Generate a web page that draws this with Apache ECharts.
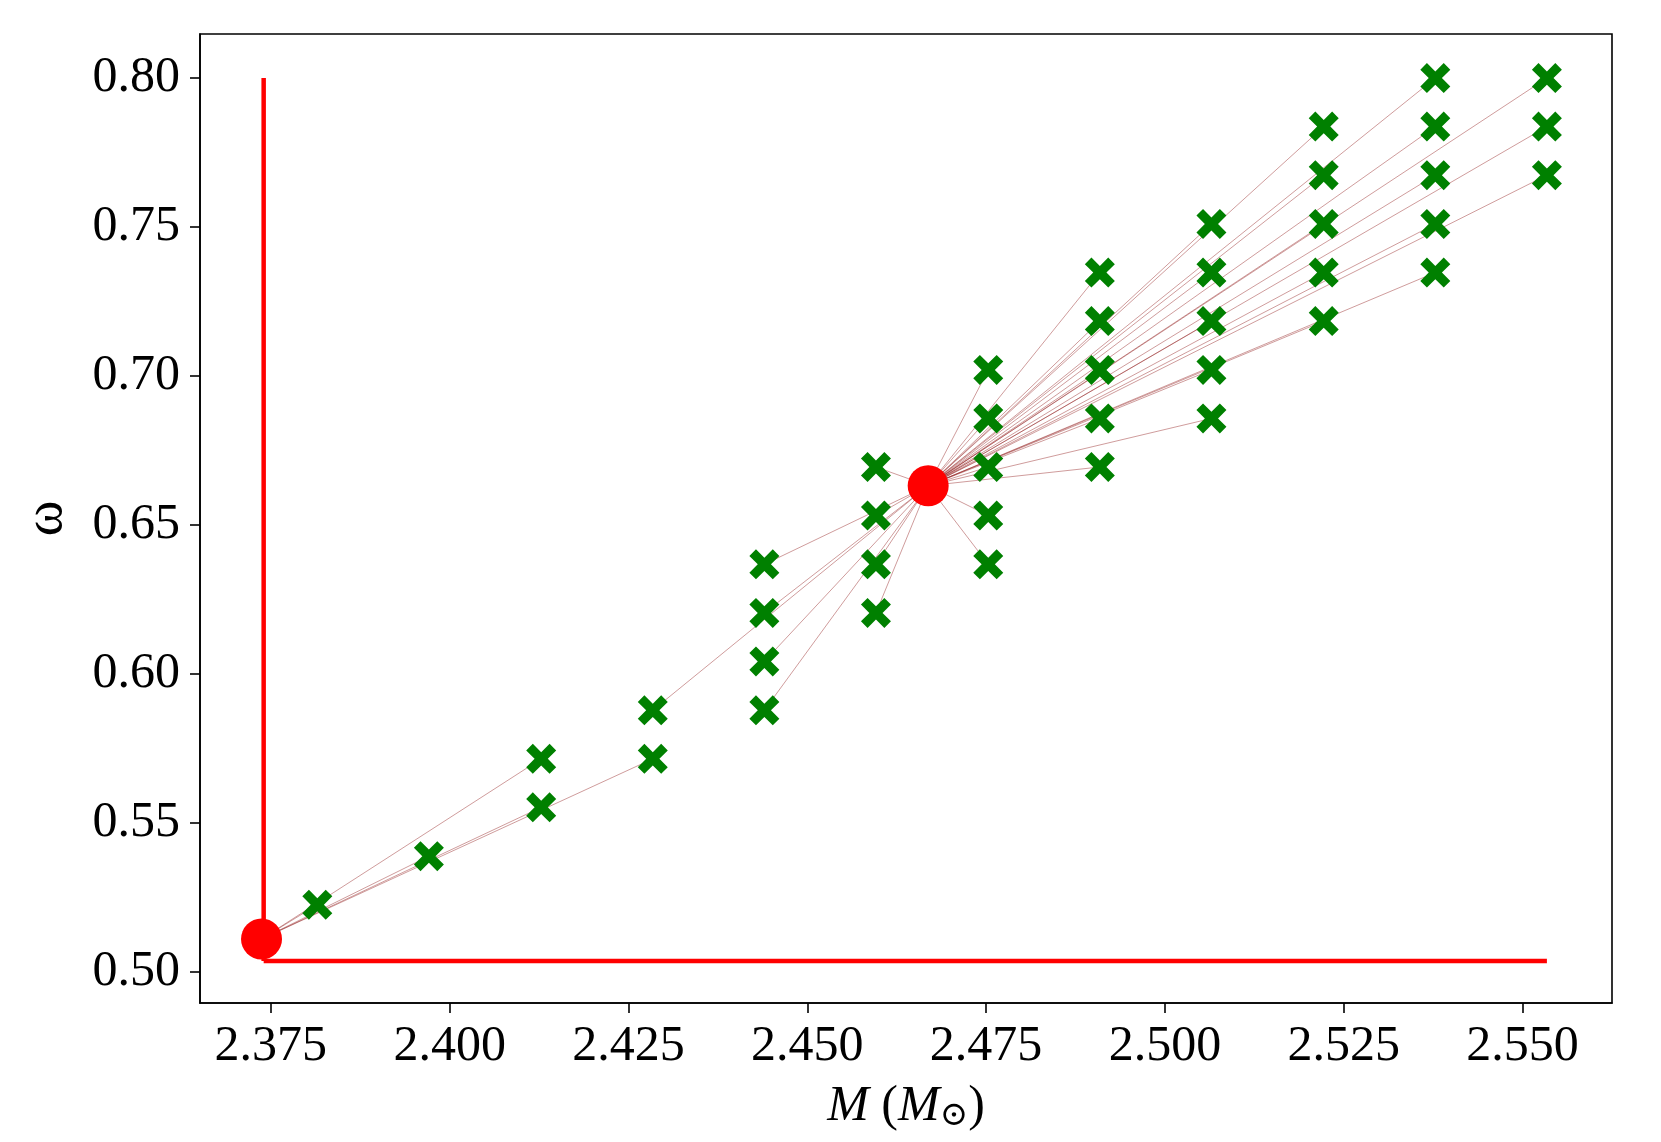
<!DOCTYPE html>
<html>
<head>
<meta charset="utf-8">
<script src="https://cdn.jsdelivr.net/npm/echarts@6/dist/echarts.min.js"></script>
<style>html,body{margin:0;padding:0;background:#fff}#c{width:1661px;height:1142px}</style>
</head>
<body>
<div id="c"></div>
<script>
// ---- data ----
var xTicks = [2.375, 2.400, 2.425, 2.450, 2.475, 2.500, 2.525, 2.550];
var yTicks = [0.50, 0.55, 0.60, 0.65, 0.70, 0.75, 0.80];

var center1 = [2.3737, 0.5109];
var center2 = [2.4669, 0.6631];

var cluster1Points = [
  [2.3815, 0.5224], [2.3971, 0.5387], [2.4128, 0.5551], [2.4128, 0.5714], [2.4284, 0.5714]
];
var cluster2Points = [
  [2.4284, 0.5877],
  [2.4440, 0.5877], [2.4440, 0.6041], [2.4440, 0.6204], [2.4440, 0.6367],
  [2.4596, 0.6204], [2.4596, 0.6367], [2.4596, 0.6531], [2.4596, 0.6694],
  [2.4753, 0.6367], [2.4753, 0.6531], [2.4753, 0.6694], [2.4753, 0.6857], [2.4753, 0.7020],
  [2.4909, 0.6694], [2.4909, 0.6857], [2.4909, 0.7020], [2.4909, 0.7184], [2.4909, 0.7347],
  [2.5065, 0.6857], [2.5065, 0.7020], [2.5065, 0.7184], [2.5065, 0.7347], [2.5065, 0.7510],
  [2.5222, 0.7184], [2.5222, 0.7347], [2.5222, 0.7510], [2.5222, 0.7674], [2.5222, 0.7837],
  [2.5378, 0.7347], [2.5378, 0.7510], [2.5378, 0.7674], [2.5378, 0.7837], [2.5378, 0.8000],
  [2.5534, 0.7674], [2.5534, 0.7837], [2.5534, 0.8000]
];

var boundaryVertical = [[2.3740, 0.5035], [2.3740, 0.8000]];
var boundaryHorizontal = [[2.3740, 0.5035], [2.5534, 0.5035]];

var xRange = [2.3651, 2.5625];
var yRange = [0.4894, 0.8148];

// ---- build ----
var serif = "'Liberation Serif','DejaVu Serif','Times New Roman',serif";
var links = [];
cluster1Points.forEach(function (p) { links.push({ coords: [center1, p] }); });
cluster2Points.forEach(function (p) { links.push({ coords: [center2, p] }); });

var xShape = 'path://M22,0 L50,28 L78,0 L100,22 L72,50 L100,78 L78,100 L50,72 L22,100 L0,78 L28,50 L0,22 Z';

var chart = echarts.init(document.getElementById('c'), null, { renderer: 'canvas' });
chart.setOption({
  animation: false,
  backgroundColor: '#ffffff',
  grid: { left: 200, right: 49, top: 34, bottom: 139, show: true, borderColor: '#000', borderWidth: 1.6, backgroundColor: 'transparent' },
  xAxis: {
    type: 'value', min: xRange[0], max: xRange[1],
    axisLine: { show: true, onZero: false, lineStyle: { color: '#000', width: 1.6 } },
    axisTick: { show: true, length: 10, inside: false, lineStyle: { color: '#000', width: 1.6 }, customValues: xTicks },
    axisLabel: { customValues: xTicks, margin: 19, color: '#000', fontSize: 50, fontFamily: serif,
      formatter: function (v) { return v.toFixed(3); } },
    splitLine: { show: false },
    name: '{i|M} ({i|M}{s|⊙})', nameLocation: 'middle', nameGap: 78,
    nameTextStyle: { color: '#000', fontSize: 50, fontFamily: serif,
      rich: {
        i: { fontSize: 50, fontStyle: 'italic', fontFamily: serif, color: '#000' },
        s: { fontSize: 34, fontFamily: serif, color: '#000', verticalAlign: 'bottom', padding: [18, 0, 0, 0] }
      } }
  },
  yAxis: {
    type: 'value', min: yRange[0], max: yRange[1],
    axisLine: { show: true, onZero: false, lineStyle: { color: '#000', width: 1.6 } },
    axisTick: { show: true, length: 10, inside: false, lineStyle: { color: '#000', width: 1.6 }, customValues: yTicks },
    axisLabel: { customValues: yTicks, margin: 20, color: '#000', fontSize: 50, fontFamily: serif,
      formatter: function (v) { return v.toFixed(2); } },
    splitLine: { show: false },
    name: 'ω', nameLocation: 'middle', nameGap: 126, nameRotate: 90,
    nameTextStyle: { color: '#000', fontSize: 54, fontFamily: serif }
  },
  series: [
    {
      type: 'lines', coordinateSystem: 'cartesian2d', z: 2, silent: true,
      lineStyle: { color: 'rgba(140,20,20,0.42)', width: 1, opacity: 1 },
      data: links
    },
    {
      type: 'line', z: 3, symbol: 'none', silent: true,
      lineStyle: { color: '#ff0000', width: 4.5, opacity: 1 },
      data: boundaryVertical
    },
    {
      type: 'line', z: 3, symbol: 'none', silent: true,
      lineStyle: { color: '#ff0000', width: 4.5, opacity: 1 },
      data: boundaryHorizontal
    },
    {
      type: 'scatter', z: 4, symbol: 'circle', symbolSize: 41, silent: true,
      itemStyle: { color: '#ff0000', opacity: 1 },
      data: [center1, center2]
    },
    {
      type: 'scatter', z: 5, symbol: xShape, symbolSize: 30, silent: true,
      itemStyle: { color: '#008000', opacity: 1 },
      data: cluster1Points.concat(cluster2Points)
    }
  ]
});
</script>
</body>
</html>
